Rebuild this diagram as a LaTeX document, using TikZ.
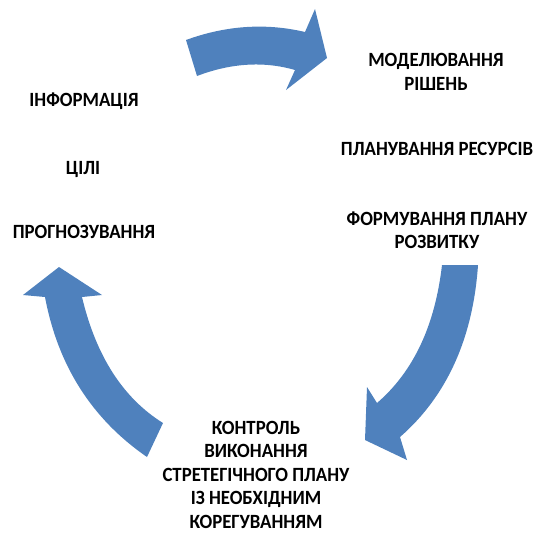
\documentclass[tikz,border=0pt]{standalone}
\usepackage{fontspec}
\setmainfont{Carlito}[FakeStretch=0.93]
\definecolor{arrowblue}{HTML}{4F81BD}
\tikzset{
  lbl/.style={font=\fontsize{11.5}{13.3}\selectfont\bfseries,align=center,inner sep=0pt},
  cyc/.style={fill=arrowblue,draw=none}
}
\begin{document}
\begin{tikzpicture}[x=0.02cm,y=-0.02cm]
    \useasboundingbox (0,0) rectangle (536,532);
    % arrows
    \fill[cyc] (186,40) .. controls (227,25) and (267,23) .. (305,32) -- (315,9) -- (327,58) -- (286,90) -- (295,70) .. controls (264,61) and (231,63) .. (197,76) -- cycle;
    \fill[cyc] (442,265) -- (478,265) .. controls (473,338) and (447,396) .. (400,437) -- (407,460) -- (365,440) -- (367,387) -- (377,403) .. controls (414,371) and (435,325) .. (442,265) -- cycle;
    \fill[cyc] (147,457) .. controls (92,419) and (58,366) .. (45,297) -- (23,295) -- (59,267) -- (102,295) -- (82,297) .. controls (96,356) and (123,398) .. (163,423) -- cycle;
    % labels
    \node[lbl] (info) at (84,101) {ІНФОРМАЦІЯ};
    \node[lbl] (goals) at (83,169) {ЦІЛІ};
    \node[lbl] (forecast) at (84,232) {ПРОГНОЗУВАННЯ};
    \node[lbl] (model) at (436,72) {МОДЕЛЮВАННЯ\\РІШЕНЬ};
    \node[lbl] (resources) at (437,149) {ПЛАНУВАННЯ РЕСУРСІВ};
    \node[lbl] (plan) at (437,230) {ФОРМУВАННЯ ПЛАНУ\\РОЗВИТКУ};
    \node[lbl,anchor=north] (control) at (256,421) {КОНТРОЛЬ\\ВИКОНАННЯ\\СТРЕТЕГІЧНОГО ПЛАНУ\\ІЗ НЕОБХІДНИМ\\КОРЕГУВАННЯМ};
\end{tikzpicture}
\end{document}
